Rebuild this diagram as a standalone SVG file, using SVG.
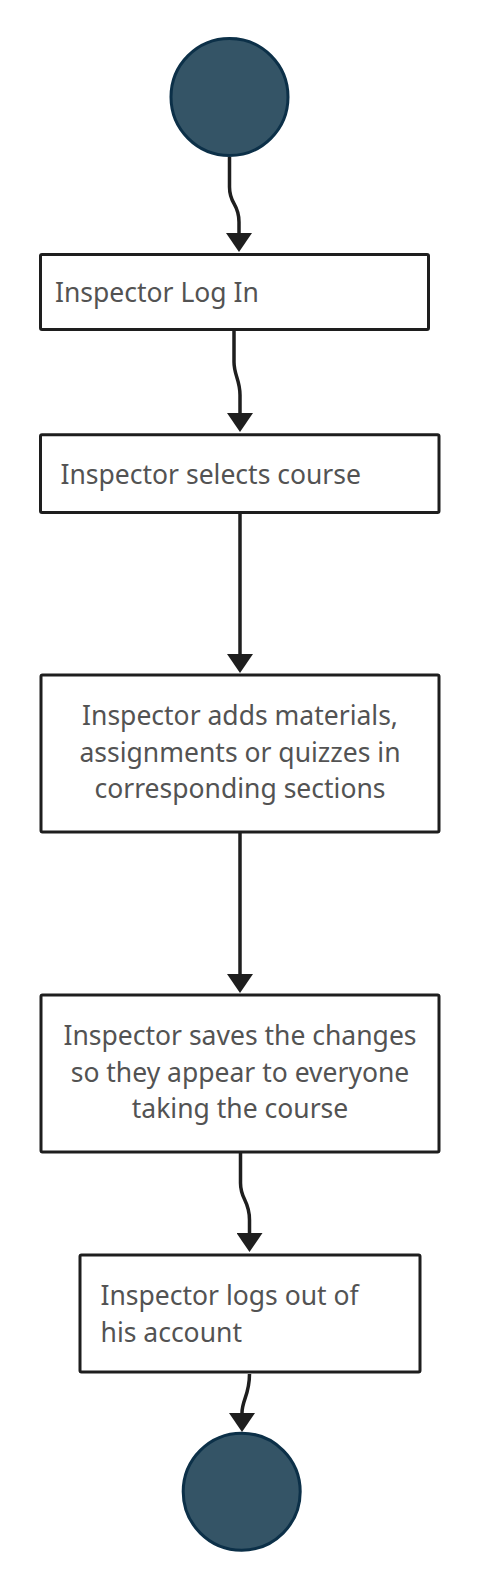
<svg xmlns="http://www.w3.org/2000/svg" width="481" height="1591" viewBox="0 0 481 1591">
<style>
.box{fill:#ffffff;stroke:#1e1e1e;stroke-width:3}
.term{fill:#345466;stroke:#0c3048;stroke-width:3}
.lbl{font-family:"Noto Sans","Open Sans",sans-serif;font-size:26.5px;fill:#535353}
.mid{text-anchor:middle}
.edge{fill:none;stroke:#1e1e1e;stroke-width:3.5;marker-end:url(#arrow)}
</style>
<defs>
<marker id="arrow" markerUnits="userSpaceOnUse" viewBox="0 0 19 26" refX="0" refY="13" markerWidth="19" markerHeight="26" orient="auto">
<path d="M0,0 L19,13 L0,26 Z" fill="#1e1e1e"/>
</marker>
</defs>
<rect width="481" height="1591" fill="#ffffff"/>
<g id="connectors">
<path class="edge" d="M229.5,157 L229.5,187 C229.5,205 239,203 239,222 L239,233"/>
<path class="edge" d="M234,331 L234,362 C234,375 240,380 240,395 L240,413"/>
<path class="edge" d="M240,513 L240,654"/>
<path class="edge" d="M240,833 L240,974"/>
<path class="edge" d="M240.5,1153 L240.5,1183 C240.5,1200 249.5,1200 249.5,1220 L249.5,1233"/>
<path class="edge" d="M249.5,1374 C249.5,1395 242,1400 242,1413"/>
</g>
<g id="start"><circle class="term" cx="229.5" cy="97" r="58.5"/></g>
<g id="login">
<rect class="box" x="40.5" y="254.5" width="388" height="75" rx="1.5"/>
<text class="lbl" x="55" y="302">Inspector Log In</text>
</g>
<g id="select">
<rect class="box" x="40.5" y="434.8" width="398.5" height="77.7" rx="1.5"/>
<text class="lbl" x="60.5" y="484">Inspector selects course</text>
</g>
<g id="add">
<rect class="box" x="41" y="675" width="398" height="157" rx="1.5"/>
<text class="lbl mid" x="240" y="725">Inspector adds materials,</text>
<text class="lbl mid" x="240" y="762">assignments or quizzes in</text>
<text class="lbl mid" x="240" y="798">corresponding sections</text>
</g>
<g id="save">
<rect class="box" x="41" y="995" width="398" height="157" rx="1.5"/>
<text class="lbl mid" x="240" y="1045">Inspector saves the changes</text>
<text class="lbl mid" x="240" y="1082">so they appear to everyone</text>
<text class="lbl mid" x="240" y="1118">taking the course</text>
</g>
<g id="logout">
<rect class="box" x="80" y="1255" width="340" height="117" rx="1.5"/>
<text class="lbl" x="100.5" y="1305">Inspector logs out of</text>
<text class="lbl" x="100.5" y="1342">his account</text>
</g>
<g id="end"><circle class="term" cx="241.7" cy="1491.7" r="58.5"/></g>
</svg>
